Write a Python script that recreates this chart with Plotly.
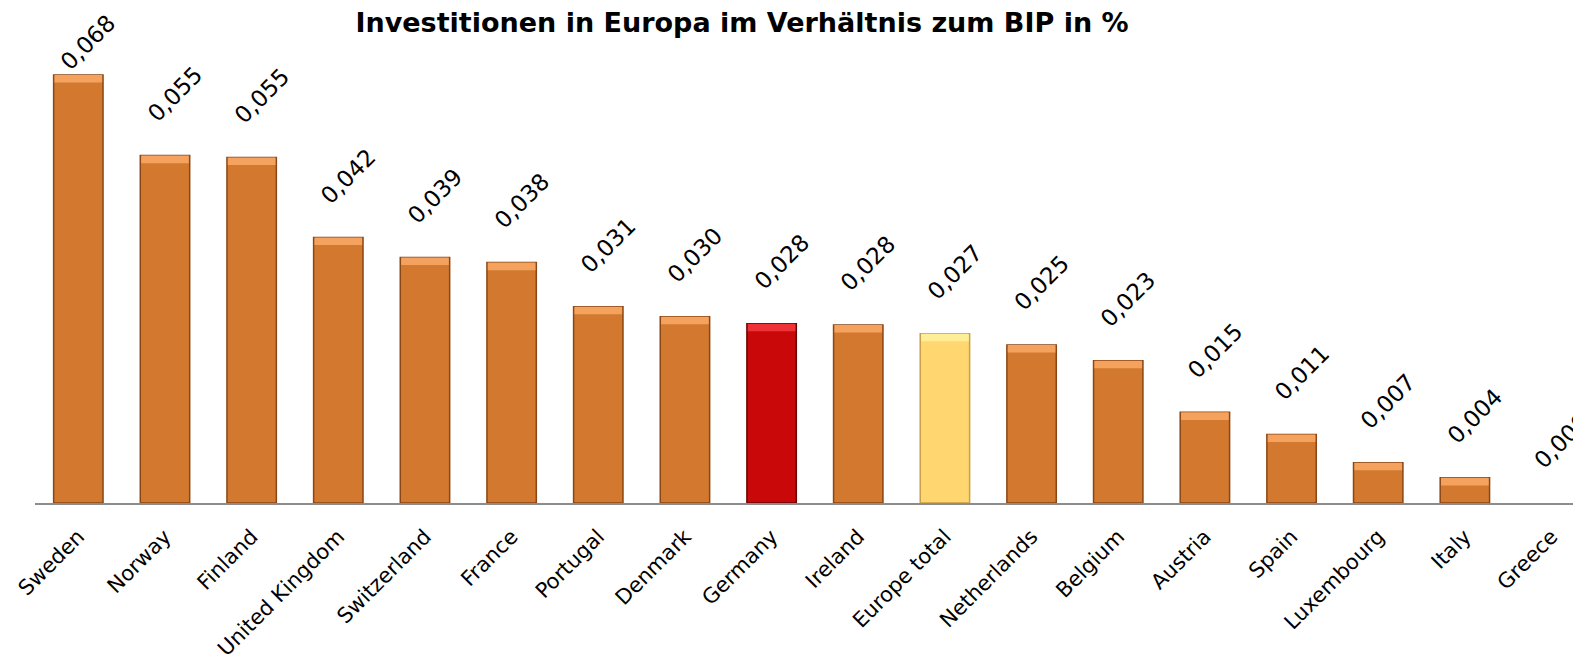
import plotly.graph_objects as go

countries = ["Sweden", "Norway", "Finland", "United Kingdom", "Switzerland", "France",
             "Portugal", "Denmark", "Germany", "Ireland", "Europe total", "Netherlands",
             "Belgium", "Austria", "Spain", "Luxembourg", "Italy", "Greece"]
values = [0.068, 0.055, 0.055, 0.042, 0.039, 0.038, 0.031, 0.030, 0.028, 0.028,
          0.027, 0.025, 0.023, 0.015, 0.011, 0.007, 0.004, 0.000]
heights = [0.0680, 0.0552, 0.0549, 0.0422, 0.0390, 0.0382, 0.0312, 0.0296, 0.0285, 0.0283,
           0.0269, 0.0251, 0.0226, 0.0144, 0.0109, 0.0064, 0.0040, 0.0000]
labels = ["{:.3f}".format(v).replace(".", ",") for v in values]

ORANGE, ORANGE_LINE, ORANGE_TOP = "#D2782F", "#8A4614", "#F4A25E"
RED, RED_LINE, RED_TOP = "#C9080A", "#6A0000", "#EE3236"
YEL, YEL_LINE, YEL_TOP = "#FFD66F", "#C8A048", "#FFEE98"

def pick(c, o, r, y):
    return r if c == "Germany" else (y if c == "Europe total" else o)

fill = [pick(c, ORANGE, RED, YEL) for c in countries]
line = [pick(c, ORANGE_LINE, RED_LINE, YEL_LINE) for c in countries]
top = [pick(c, ORANGE_TOP, RED_TOP, YEL_TOP) for c in countries]
line_w = [1.5 if h > 0 else 0 for h in heights]

YMAX = 0.07865
bevel = 0.0012
label_off = 0.0098
label_cap = 0.0732

fig = go.Figure()
fig.add_trace(go.Bar(x=countries, y=heights, width=0.57,
                     marker=dict(color=fill, line=dict(color=line, width=line_w)),
                     hoverinfo="skip"))
fig.add_trace(go.Bar(x=countries, y=[bevel if h > bevel else 0 for h in heights],
                     base=[h - bevel if h > bevel else 0 for h in heights], width=0.55,
                     marker=dict(color=top, line=dict(width=0)), hoverinfo="skip"))

for c, h, t in zip(countries, heights, labels):
    fig.add_annotation(x=c, y=min(h + label_off, label_cap), text=t, textangle=-45,
                       showarrow=False, xshift=10,
                       font=dict(family="DejaVu Sans", size=23, color="#000000"))

fig.update_layout(
    width=1573, height=654, barmode="overlay", showlegend=False,
    paper_bgcolor="white", plot_bgcolor="white",
    margin=dict(l=27, r=0, t=0, b=159, autoexpand=False),
    title=dict(text="<b>Investitionen in Europa im Verhältnis zum BIP in %</b>",
               x=734 / 1573, xanchor="center", xref="container",
               y=1 - 15 / 654, yanchor="middle", yref="container",
               font=dict(family="DejaVu Sans", size=27, color="#000000")),
    xaxis=dict(range=[-0.5, 17.34], showline=True, linecolor="#8C8C8C", linewidth=2,
               ticks="", tickangle=-45, showgrid=False, ticklabelstandoff=11,
               automargin=False,
               tickfont=dict(family="DejaVu Sans", size=21, color="#000000")),
    yaxis=dict(range=[0, YMAX], visible=False, showgrid=False, zeroline=False,
               automargin=False),
)

fig.write_html("out.html")
